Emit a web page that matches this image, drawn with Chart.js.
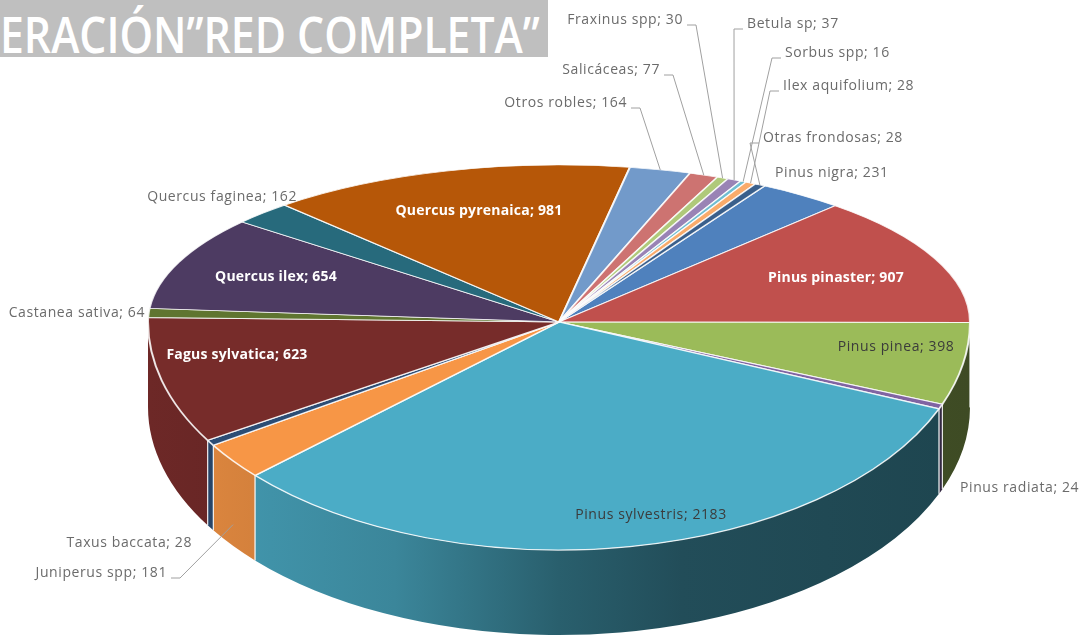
<!DOCTYPE html>
<html>
<head>
<meta charset="utf-8">
<script src="https://cdn.jsdelivr.net/npm/chart.js@4.4.1/dist/chart.umd.min.js"></script>
<style>
  body { margin: 0; background: #fff; }
  #wrap { position: relative; width: 1079px; height: 642px; overflow: hidden; }
  #title { position: absolute; left: 0; top: 0; width: 548px; height: 57px; background: #bfbfbf; overflow: hidden; }
  #title span { position: absolute; left: 0; top: 0; line-height: 50px; font: 600 50px "Open Sans"; color: #fff; white-space: nowrap; transform-origin: 0 0; }
</style>
</head>
<body>
<div id="wrap">
  <canvas id="pie" width="1079" height="642"></canvas>
  <div id="title"><span id="titleText">ERACIÓN”RED COMPLETA”</span></div>
</div>
<script>
// species, in the order of the worksheet (clockwise from Pinus nigra)
const species = [
  "Pinus nigra", "Pinus pinaster", "Pinus pinea", "Pinus radiata", "Pinus sylvestris",
  "Juniperus spp", "Taxus baccata", "Fagus sylvatica", "Castanea sativa", "Quercus ilex",
  "Quercus faginea", "Quercus pyrenaica", "Otros robles", "Salicáceas", "Fraxinus spp",
  "Betula sp", "Sorbus spp", "Ilex aquifolium", "Otras frondosas"
];
const surfaces = [231, 907, 398, 24, 2183, 181, 28, 623, 64, 654, 162, 981, 164, 77, 30, 37, 16, 28, 28];

const sliceColors = [
  "#4F81BD", "#C0504D", "#9BBB59", "#8064A2", "#4BACC6", "#F79646",
  "#2C4D75", "#772C2A", "#5F7530", "#4D3B62", "#276A7C", "#B65708",
  "#729ACA", "#CD7371", "#AFC97A", "#9983B5", "#6FBDD1", "#F9AB6B", "#3A5F8B"
];

// where Excel put each data label: x, y, align, kind
const labelSpots = [
  [775, 173, "left", "out"],
  [836, 278, "center", "bold"],
  [896, 347, "center", "dark"],
  [960, 488, "left", "out"],
  [651, 515, "center", "dark"],
  [167, 573, "right", "lead"],
  [192, 543, "right", "out"],
  [237, 355, "center", "bold"],
  [145, 313, "right", "out"],
  [276, 277, "center", "bold"],
  [297, 197, "right", "out"],
  [479, 211, "center", "bold"],
  [627, 103, "right", "lead"],
  [660, 70, "right", "lead"],
  [683, 20, "right", "lead"],
  [747, 24, "left", "lead"],
  [785, 53, "left", "lead"],
  [783, 86, "left", "lead"],
  [763, 138, "left", "lead"]
];

// top face: apex, half width, half depth behind / in front (fake perspective), thickness
const CX = 559, VY = 322, A = 411, BB = 157, BF = 228, DEPTH = 85;
const wallStops = [[0, 0.92], [0.3, 0.78], [0.5, 0.55], [0.65, 0.45], [1, 0.4]];

function shade(hex, f) {
  const n = parseInt(hex.slice(1), 16);
  const r = Math.round(((n >> 16) & 255) * f);
  const g = Math.round(((n >> 8) & 255) * f);
  const b = Math.round((n & 255) * f);
  return `rgb(${r},${g},${b})`;
}

function edge(t, drop) {
  const s = Math.sin(t);
  return [CX + A * Math.cos(t), VY + (s > 0 ? BF : BB) * s + (drop || 0)];
}

function drawWall(ctx, a, b, color) {
  const g = ctx.createLinearGradient(CX - A, 0, CX + A, 0);
  wallStops.forEach(([p, f]) => g.addColorStop(p, shade(color, f)));
  ctx.beginPath();
  ctx.ellipse(CX, VY, A, BF, 0, a, b);
  ctx.ellipse(CX, VY + DEPTH, A, BF, 0, b, a, true);
  ctx.closePath();
  ctx.fillStyle = g;
  ctx.fill();
}

function squash(ctx, arc, half) {
  ctx.beginPath();
  if (half === "back") ctx.rect(0, 0, 1079, VY);
  else ctx.rect(0, VY, 1079, 642 - VY);
  ctx.clip();
  ctx.translate(CX, VY);
  ctx.scale(A / arc.outerRadius, (half === "back" ? BB : BF) / arc.outerRadius);
  ctx.translate(-arc.x, -arc.y);
}

const pie3d = {
  id: "pie3d",
  beforeDatasetsDraw(chart) {
    const ctx = chart.ctx;
    const arcs = chart.getDatasetMeta(0).data;
    const TAU = Math.PI * 2;
    const seams = [];
    arcs.forEach((arc, i) => {
      const s = ((arc.startAngle % TAU) + TAU) % TAU;
      const e = s + (arc.endAngle - arc.startAngle);
      [[0, Math.PI], [TAU, TAU + Math.PI]].forEach(([lo, hi]) => {
        const a = Math.max(s, lo), b = Math.min(e, hi);
        if (b <= a) return;
        drawWall(ctx, a, b, sliceColors[i]);
        if (a > lo) seams.push(a);
        if (b < hi) seams.push(b);
      });
    });
    ctx.save();
    ctx.strokeStyle = "rgba(255,255,255,0.7)";
    ctx.lineWidth = 1;
    seams.forEach(t => {
      const [x1, y1] = edge(t), [x2, y2] = edge(t, DEPTH);
      ctx.beginPath();
      ctx.moveTo(x1, y1);
      ctx.lineTo(x2, y2);
      ctx.stroke();
    });
    ctx.restore();

    // the library draws the back half of the top face first
    ctx.save();
    squash(ctx, arcs[0], "back");
  },
  afterDatasetsDraw(chart) {
    const ctx = chart.ctx;
    ctx.restore();
    const meta = chart.getDatasetMeta(0);
    const arcs = meta.data;
    // ...then the front half, stretched a bit more
    ctx.save();
    squash(ctx, arcs[0], "front");
    meta.controller.draw();
    ctx.restore();

    ctx.save();
    ctx.textBaseline = "middle";
    arcs.forEach((arc, i) => {
      const [x, y, align, kind] = labelSpots[i];
      const text = `${species[i]}; ${surfaces[i]}`;
      ctx.textAlign = align;
      if (kind === "bold") {
        ctx.font = "bold 14px 'Open Sans'";
        ctx.letterSpacing = "0.2px";
        ctx.fillStyle = "#ffffff";
      } else if (kind === "dark") {
        ctx.font = "14px 'Open Sans'";
        ctx.letterSpacing = "0.6px";
        ctx.fillStyle = "#3b3b3b";
      } else {
        ctx.font = "14px 'Open Sans'";
        ctx.letterSpacing = "0.6px";
        ctx.fillStyle = "#6b6b6b";
      }
      ctx.fillText(text, x, y);

      if (kind === "lead") {
        const mid = (arc.startAngle + arc.endAngle) / 2;
        const front = Math.sin(mid) > 0;
        const [ax, ay] = edge(mid, front ? DEPTH * 0.75 : 0);
        const dir = align === "right" ? 1 : -1;
        const x0 = align === "right" ? x + 4 : x - 4;
        ctx.strokeStyle = "#a0a0a0";
        ctx.lineWidth = 1;
        ctx.beginPath();
        ctx.moveTo(x0, y + 5);
        ctx.lineTo(x0 + dir * 9, y + 5);
        ctx.lineTo(ax, ay);
        ctx.stroke();
      }
    });
    ctx.restore();
  }
};

new Chart(document.getElementById("pie"), {
  type: "pie",
  data: {
    labels: species,
    datasets: [{
      data: surfaces,
      backgroundColor: sliceColors,
      borderColor: "rgba(255,255,255,0.85)",
      borderWidth: 1.6,
      hoverOffset: 0,
      clip: false
    }]
  },
  options: {
    responsive: false,
    animation: false,
    events: [],
    rotation: 30,
    layout: { padding: 0 },
    plugins: {
      legend: { display: false },
      tooltip: { enabled: false }
    }
  },
  plugins: [pie3d]
});

// the banner text is squeezed to the width it has in the slide
const tt = document.getElementById("titleText");
tt.style.transform = `scaleX(${540 / tt.offsetWidth})`;
</script>
</body>
</html>
